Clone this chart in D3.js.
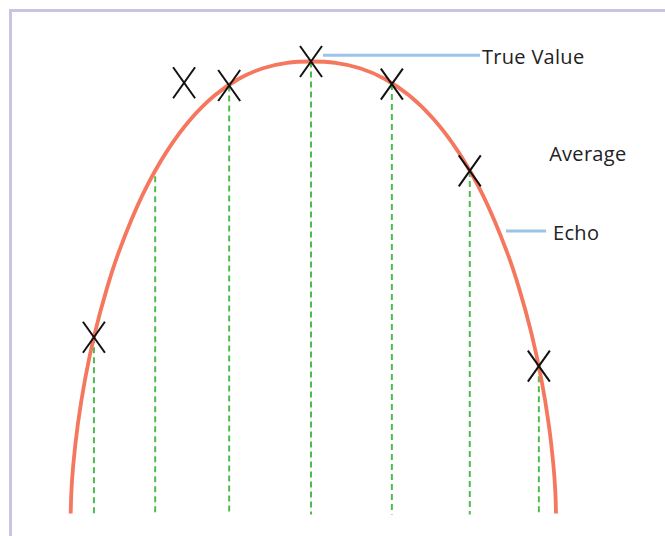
<!DOCTYPE html>
<html>
<head>
<meta charset="utf-8">
<script src="https://cdn.jsdelivr.net/npm/d3@7"></script>
<style>
  body { margin: 0; background: #fff; }
  svg { display: block; }
</style>
</head>
<body>
<script>
//============================================================
// Data (x from -5 to 5, y from 0 to 10)
var curveX = [-4.904, -4.889, -4.855, -4.757, -4.610, -4.414, -4.168, -3.923, -3.433, -2.942,
              -2.452, -1.962, -1.471, -0.981, -0.490, 0,
              0.5, 1.0, 1.5, 2.0, 2.5, 3.0, 3.5, 4.0, 4.25, 4.5, 4.7, 4.85, 4.95, 4.985, 5.0];
var curveY = [0, 0.504, 1.036, 1.987, 2.976, 3.979, 4.970, 5.784, 7.060, 8.012,
              8.727, 9.252, 9.619, 9.851, 9.970, 10,
              9.970, 9.851, 9.619, 9.252, 8.727, 8.012, 7.060, 5.784, 4.970, 3.979, 2.976, 1.987, 1.036, 0.504, 0];

// measured values (the crosses)
var markX = [-4.43, -2.59, -1.67, 0, 1.65, 3.24, 4.65];
var markY = [3.90, 9.53, 9.47, 10, 9.50, 7.58, 3.26];

// dashed drop lines
var dropX   = [-4.43, -3.18, -1.67, 0, 1.65, 3.24, 4.65];
var dropTop = [3.90, 7.46, 9.47, 10, 9.50, 7.58, 3.26];

// annotations
var labelText = ["True Value", "Average", "Echo"];
var labelX    = [3.49, 4.86, 4.94];
var labelY    = [9.94, 7.80, 6.05];
var leaderX1  = [0.245, null, 3.98];
var leaderX2  = [3.45, null, 4.80];
var leaderY   = [10.14, null, 6.25];

//============================================================
// Set up SVG
var width = 665, height = 536;

var svg = d3.select("body")
  .append("svg")
  .attr("width", width)
  .attr("height", height);

svg.append("rect")
  .attr("x", 10.5)
  .attr("y", 10.5)
  .attr("width", width + 20)
  .attr("height", height + 20)
  .style("fill", "none")
  .style("stroke", "#c6c6e2")
  .style("stroke-width", 3);

var x = d3.scaleLinear().domain([-5, 5]).range([66, 556]);
var y = d3.scaleLinear().domain([0, 10]).range([513.5, 61.5]);

//============================================================
// Dashed drop lines
svg.selectAll(".drop")
  .data(dropX)
  .enter()
  .append("line")
  .attr("class", "drop")
  .attr("x1", function (d) { return x(d); })
  .attr("x2", function (d) { return x(d); })
  .attr("y1", function (d, i) { return y(dropTop[i]); })
  .attr("y2", y(0) + 1)
  .style("stroke", "#4dbb4f")
  .style("stroke-width", 2)
  .style("stroke-dasharray", "6,4");

//============================================================
// Echo curve
var pts = curveX.map(function (d, i) { return [d, curveY[i]]; });

var line = d3.line()
  .x(function (d) { return x(d[0]); })
  .y(function (d) { return y(d[1]); })
  .curve(d3.curveCatmullRom.alpha(0.5));

svg.append("path")
  .datum(pts)
  .attr("d", line)
  .style("fill", "none")
  .style("stroke", "#f4775e")
  .style("stroke-width", 3.8);

//============================================================
// Crosses
var cw = 11, ch = 15.5;
var marks = svg.selectAll(".mark")
  .data(markX)
  .enter()
  .append("g")
  .attr("class", "mark")
  .attr("transform", function (d, i) { return "translate(" + x(d) + "," + y(markY[i]) + ")"; });

marks.append("line")
  .attr("x1", -cw).attr("y1", -ch).attr("x2", cw).attr("y2", ch);
marks.append("line")
  .attr("x1", -cw).attr("y1", ch).attr("x2", cw).attr("y2", -ch);
marks.selectAll("line")
  .style("stroke", "#111")
  .style("stroke-width", 2);

//============================================================
// Labels and leader lines
labelText.forEach(function (t, i) {
  if (leaderY[i] !== null) {
    svg.append("line")
      .attr("x1", x(leaderX1[i]))
      .attr("x2", x(leaderX2[i]))
      .attr("y1", y(leaderY[i]))
      .attr("y2", y(leaderY[i]))
      .style("stroke", "#9cc3e8")
      .style("stroke-width", 3);
  }
  svg.append("text")
    .attr("x", x(labelX[i]))
    .attr("y", y(labelY[i]))
    .style("font-family", "'Open Sans', sans-serif")
    .style("font-size", "20px")
    .style("letter-spacing", "0.3px")
    .style("fill", "#222")
    .text(t);
});
</script>
</body>
</html>
